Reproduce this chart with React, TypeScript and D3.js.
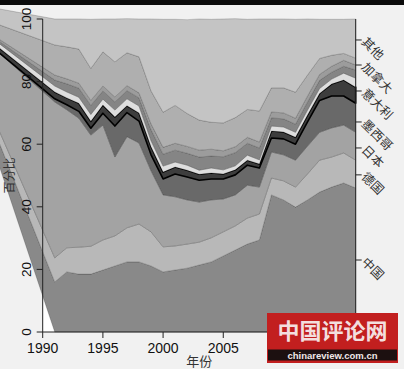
import React from 'react';
import * as d3 from 'd3';

// first record (1986) is an off-axis record whose stack starts above zero
const years = [1986, 1991, 1992, 1993, 1994, 1995, 1996, 1997, 1998, 1999, 2000, 2001, 2002, 2003, 2004, 2005, 2006, 2007, 2008, 2009, 2010, 2011, 2012, 2013, 2014, 2015, 2016];
const baseOffset = [57.5, 0, 0, 0, 0, 0, 0, 0, 0, 0, 0, 0, 0, 0, 0, 0, 0, 0, 0, 0, 0, 0, 0, 0, 0, 0, 0];
const china = [6.7, 16.0, 19.2, 18.5, 18.5, 19.8, 21.1, 22.4, 22.4, 21.1, 19.2, 19.8, 20.4, 21.4, 22.4, 24.3, 26.2, 28.1, 29.4, 43.8, 42.2, 39.9, 42.2, 44.7, 46.3, 47.6, 46.0];
const germany = [3.5, 7.7, 7.7, 8.6, 8.9, 9.6, 9.6, 10.9, 12.1, 10.9, 8.0, 7.7, 7.7, 7.3, 7.7, 7.7, 7.7, 8.3, 8.3, 5.4, 6.1, 6.4, 8.3, 10.2, 9.6, 9.6, 8.9];
const japan = [22.7, 49.8, 44.1, 41.2, 35.5, 36.7, 25.2, 29.1, 25.9, 19.5, 16.6, 15.7, 14.1, 12.8, 12.1, 10.5, 9.9, 10.5, 8.6, 8.3, 8.3, 8.6, 8.9, 8.9, 9.3, 8.9, 8.9];
const mexico = [0, 1.0, 1.6, 2.2, 2.2, 3.8, 9.9, 7.7, 7.0, 5.1, 5.1, 7.3, 7.3, 7.0, 6.7, 6.4, 6.4, 6.4, 6.1, 4.5, 5.1, 5.1, 7.7, 10.2, 10.2, 9.3, 9.3];
const italy = [1.6, 2.2, 2.2, 2.6, 2.2, 2.6, 2.9, 2.2, 2.6, 2.6, 2.2, 2.2, 2.2, 1.9, 1.9, 1.6, 1.6, 1.6, 1.3, 2.2, 2.2, 2.2, 2.2, 2.2, 3.8, 5.1, 5.1];
const bandA = [1.3, 1.9, 1.9, 1.9, 2.2, 1.9, 2.2, 2.2, 2.2, 1.9, 1.9, 1.6, 1.6, 1.3, 1.6, 1.3, 1.3, 1.6, 1.3, 1.6, 1.6, 1.6, 1.6, 1.6, 1.6, 2.2, 2.9];
const bandB = [0.6, 1.9, 2.6, 2.9, 2.9, 2.6, 2.6, 2.6, 2.6, 3.5, 3.8, 3.8, 3.8, 4.2, 3.8, 4.2, 4.2, 3.8, 3.8, 2.6, 2.6, 2.6, 2.6, 2.6, 2.2, 2.2, 2.6];
const bandC = [0.6, 1.6, 1.6, 1.6, 1.6, 1.6, 1.6, 1.6, 1.6, 1.9, 2.2, 2.2, 2.2, 2.2, 2.2, 1.9, 1.9, 1.9, 1.9, 1.9, 1.9, 1.9, 1.9, 1.9, 1.9, 1.9, 1.6];
const canada = [4.2, 9.6, 10.2, 10.9, 10.2, 10.9, 11.2, 10.5, 11.5, 10.5, 11.2, 12.1, 10.5, 9.6, 8.6, 8.9, 9.3, 8.9, 9.9, 7.7, 8.0, 8.3, 6.7, 5.1, 3.5, 2.2, 2.2];
const others = [4.8, 8.3, 8.9, 9.6, 15.7, 10.5, 13.7, 10.9, 12.1, 23.0, 29.7, 27.5, 30.0, 32.3, 32.9, 33.2, 31.6, 28.8, 29.4, 22.0, 22.0, 23.3, 17.9, 12.5, 11.5, 10.9, 12.5];

const seriesKeys = ['offset', 'china', 'germany', 'japan', 'mexico', 'italy', 'bandA', 'bandB', 'bandC', 'canada', 'others'];
const seriesData: Record<string, number[]> = { offset: baseOffset, china, germany, japan, mexico, italy, bandA, bandB, bandC, canada, others };
const seriesFill: Record<string, string> = {
  china: '#898989', germany: '#b8b8b8', japan: '#a3a3a3', mexico: '#696969', italy: '#3d3d3d',
  bandA: '#dedede', bandB: '#858585', bandC: '#9c9c9c', canada: '#afafaf', others: '#c4c4c4',
};

const xTicks = [1990, 1995, 2000, 2005, 2010, 2015];
const yTicks = [0, 20, 40, 60, 80, 100];
const rightTickLabels = ['其他', '加拿大', '意大利', '墨西哥', '日本', '德国', '中国'];
const rightTickValues = [93.3, 85.3, 77.0, 67.1, 58.8, 50.2, 23.0];

const W = 404, H = 369;
const WM = { x: 267, y: 313, w: 131, h: 50 }; // watermark box

export default function App() {
  const x = d3.scaleLinear().domain([1990, 2016]).range([42.7, 355.7]);
  const y = d3.scaleLinear().domain([0, 100]).range([332, 19]);
  const rows = years.map((yr, i) => {
    const r: any = { year: yr };
    seriesKeys.forEach(k => { r[k] = seriesData[k][i]; });
    return r;
  });
  const stack = d3.stack().keys(seriesKeys)(rows as any);
  const area = d3.area<any>()
    .x((d: any) => x(d.data.year))
    .y0((d: any) => y(d[0]))
    .y1((d: any) => y(d[1]));

  const sans = '"Liberation Sans", Arial, sans-serif';
  const cjk = '"Noto Sans CJK SC", "Noto Sans", sans-serif';
  const [x0, x1] = x.range();
  const [yb, yt] = y.range();

  return (
    <svg width={W} height={H} style={{ position: 'absolute', left: 0, top: 0, display: 'block' }}>
      <rect x={0} y={0} width={W} height={H} fill="#f1f1f1" />
      <rect x={x0} y={yt} width={x1 - x0} height={yb - yt} fill="#ffffff" />
      {stack.filter(s => s.key !== 'offset').map(s => (
        <path key={s.key} d={area(s as any) || ''} fill={seriesFill[s.key]}
          stroke={s.key === 'italy' ? '#000' : 'rgba(0,0,0,0.3)'}
          strokeWidth={s.key === 'italy' ? 1.6 : 0.6} strokeLinejoin="round" />
      ))}
      {/* left axis */}
      <line x1={x0} x2={x0} y1={y(0)} y2={y(100)} stroke="#222" strokeWidth={1} />
      {yTicks.map(t => (
        <g key={t}>
          <line x1={x0 - 6} x2={x0} y1={y(t)} y2={y(t)} stroke="#222" />
          <text transform={`translate(31,${y(t)}) rotate(-90)`} textAnchor="middle" fontFamily={sans} fontSize={13.5} fill="#111">{t}</text>
        </g>
      ))}
      {/* bottom axis */}
      <line x1={x0} x2={x1} y1={yb} y2={yb} stroke="#222" strokeWidth={1} />
      {xTicks.map(t => (
        <g key={t}>
          <line x1={x(t)} x2={x(t)} y1={yb} y2={yb + 6} stroke="#222" />
          {x(t) + 15 < WM.x && (
            <text x={x(t)} y={353} textAnchor="middle" fontFamily={sans} fontSize={14} fill="#111">{t}</text>
          )}
        </g>
      ))}
      {/* right axis */}
      <line x1={x1} x2={x1} y1={yt} y2={yb} stroke="#222" strokeWidth={1} />
      {rightTickValues.map((v, i) => (
        <g key={i}>
          <line x1={x1} x2={x1 + 6} y1={y(v)} y2={y(v)} stroke="#222" />
          <text transform={`translate(${x1 + 9},${y(v) - 1}) rotate(45)`} dominantBaseline="central" fontFamily={cjk} fontSize={12.5} fill="#333">{rightTickLabels[i]}</text>
        </g>
      ))}
      <text x={(x0 + x1) / 2} y={366} textAnchor="middle" fontFamily={cjk} fontSize={13} fill="#333">年份</text>
      <text transform={`translate(14,${(yt + yb) / 2}) rotate(-90)`} textAnchor="middle" fontFamily={cjk} fontSize={12} fill="#333">百分比</text>
      {/* top border */}
      <rect x={0} y={0} width={W} height={5} fill="#0b0b0b" />
      {/* watermark */}
      <rect x={WM.x} y={WM.y} width={WM.w} height={WM.h} fill="#c21f1f" />
      <rect x={WM.x + 1} y={349.5} width={WM.w - 2} height={11} fill="#1c1010" />
      <text x={WM.x + WM.w / 2} y={339} textAnchor="middle" fontFamily={cjk} fontWeight="bold" fontSize={22} fill="#f3dede">中国评论网</text>
      <text x={WM.x + WM.w / 2} y={358.5} textAnchor="middle" fontFamily={sans} fontWeight="bold" fontSize={9.5} fill="#f0e8e8">chinareview.com.cn</text>
    </svg>
  );
}
